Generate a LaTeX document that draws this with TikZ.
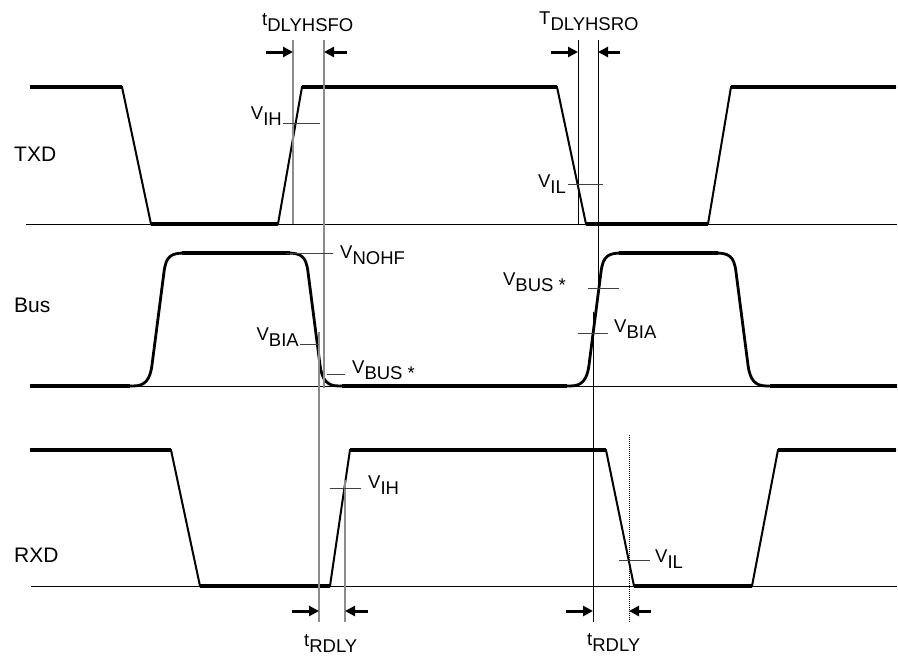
\documentclass[tikz,border=0pt]{standalone}
\usepackage{fontspec}
\setmainfont{Liberation Sans}
\usetikzlibrary{arrows.meta}
\newcommand\lo[1]{\raisebox{-6pt}{#1}}
\begin{document}
\begin{tikzpicture}[x=1pt,y=-1pt,
 sig/.style={line width=2pt, line join=miter},
 bsig/.style={line width=2.8pt, line join=round},
 lvl/.style={line width=4pt},
 base/.style={line width=0.9pt},
 gry/.style={line width=2pt, draw=black!45},
 thn/.style={line width=1pt},
 tck/.style={line width=1pt, draw=black!75},
 arr/.style={line width=3pt,-{Triangle[length=10pt,width=10pt]}},
 lab/.style={font=\fontsize{18.5}{20}\selectfont, inner sep=0pt},
 sname/.style={font=\fontsize{21}{22}\selectfont, inner sep=0pt, anchor=base west}]
\useasboundingbox (0,0) rectangle (898,656);
\fill[white] (0,0) rectangle (898,656);

% baselines
\draw[base] (26,224) -- (897,224);
\draw[base] (30,386) -- (897,386);
\draw[base] (31,586) -- (897,586);

% TXD
\draw[sig] (30,87) -- (122,87) -- (151,224) -- (278,224) -- (302,87) -- (557,87) -- (586,224) -- (708,224) -- (731,87) -- (896,87);
\draw[lvl] (30,87)--(122,87) (151,224)--(278,224) (302,87)--(557,87) (586,224)--(708,224) (731,87)--(896,87);

% RXD
\draw[sig] (30,450) -- (171,450) -- (200,586) -- (330,586) -- (350,450) -- (606,450) -- (634,586) -- (752,586) -- (778,450) -- (896,450);
\draw[lvl] (30,450)--(171,450) (200,586)--(330,586) (350,450)--(606,450) (634,586)--(752,586) (778,450)--(896,450);

% Bus
\draw[bsig] (30,386) -- (133,386)
  .. controls (145,386) and (150,380) .. (152,365) -- (164,272) .. controls (166,256) and (171,253) .. (185,253)
  -- (287,253)
  .. controls (301,253) and (306,256) .. (308,272) -- (320,365) .. controls (322,380) and (327,386) .. (339,386)
  -- (570,386)
  .. controls (582,386) and (587,380) .. (589,365) -- (601,272) .. controls (603,256) and (608,253) .. (622,253)
  -- (715,253)
  .. controls (729,253) and (734,256) .. (736,272) -- (748,365) .. controls (750,380) and (755,386) .. (767,386)
  -- (897,386);
\draw[lvl] (30,386)--(130,386) (182,253)--(290,253) (342,386)--(567,386) (619,253)--(718,253) (770,386)--(897,386);

% vertical reference lines
\draw[gry] (293,40) -- (293,224);
\draw[gry] (324,40) -- (324,388);
\draw[gry] (319,332) -- (319,622);
\draw[gry] (345,480) -- (345,622);
\draw[thn] (578,40) -- (578,224);
\draw[thn] (598,40) -- (598,288);
\draw[thn] (593,312) -- (593,622);
\draw[thn, densely dotted] (629,435) -- (629,622);

% ticks
\draw[tck] (283,123) -- (320,123);
\draw[tck] (568,184) -- (603,184);
\draw[tck] (286,253) -- (333,253);
\draw[tck] (300,344) -- (319,344);
\draw[tck] (327,374) -- (345,374);
\draw[tck] (588,288) -- (619,288);
\draw[tck] (578,333) -- (608,333);
\draw[tck] (330,488) -- (361,488);
\draw[tck] (619,560) -- (650,560);

% arrows
\draw[arr] (266,52) -- (293,52);
\draw[arr] (347,52) -- (324,52);
\draw[arr] (551,52) -- (578,52);
\draw[arr] (620,52) -- (598,52);
\draw[arr] (292,611) -- (319,611);
\draw[arr] (368,611) -- (345,611);
\draw[arr] (566,611) -- (593,611);
\draw[arr] (651,611) -- (629,611);

% signal names
\node[sname] (ntxd) at (14,161) {TXD};
\node[sname] (nbus) at (14,312) {Bus};
\node[sname] (nrxd) at (14,562) {RXD};

% timing labels
\node[lab, anchor=base west] (ltsf) at (262,25) {t\lo{DLYHSFO}};
\node[lab, anchor=base west] (ltsr) at (539,24) {T\lo{DLYHSRO}};
\node[lab, anchor=base west] (lrd1) at (304,646) {t\lo{RDLY}};
\node[lab, anchor=base west] (lrd2) at (587,645) {t\lo{RDLY}};

% voltage labels
\node[lab, anchor=base east] (lvih1) at (282,119) {V\lo{IH}};
\node[lab, anchor=base east] (lvil1) at (566,187) {V\lo{IL}};
\node[lab, anchor=base west] (lnohf) at (340,258) {V\lo{NOHF}};
\node[lab, anchor=base east] (lbia1) at (299,340) {V\lo{BIA}};
\node[lab, anchor=base west] (lbus1) at (352,373) {V\lo{BUS *}};
\node[lab, anchor=base east] (lbus2) at (566,285) {V\lo{BUS *}};
\node[lab, anchor=base west] (lbia2) at (614,332) {V\lo{BIA}};
\node[lab, anchor=base west] (lvih2) at (368,488) {V\lo{IH}};
\node[lab, anchor=base west] (lvil2) at (655,562) {V\lo{IL}};
\end{tikzpicture}
\end{document}
